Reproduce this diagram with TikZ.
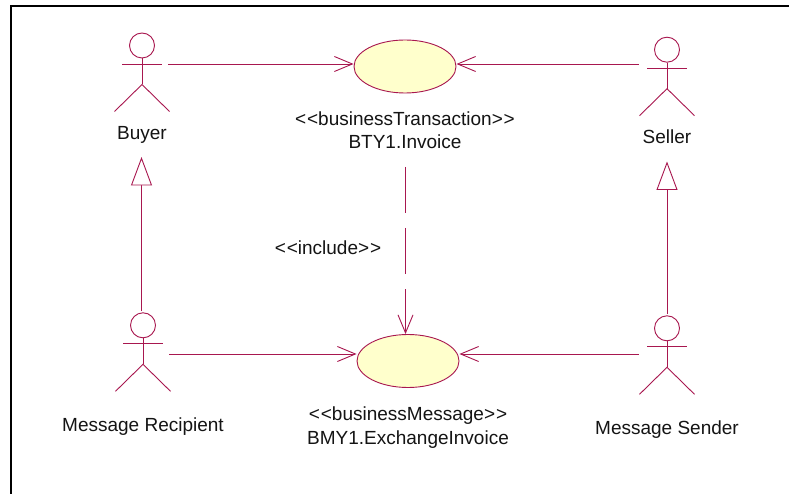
\documentclass[tikz,border=0pt]{standalone}
\usepackage{fontspec}
\setmainfont{Liberation Sans}
\usetikzlibrary{arrows.meta,shapes.geometric}
\definecolor{umlline}{HTML}{A8174F}
\definecolor{umlfill}{HTML}{FFFFCC}
\newcommand{\ltlt}{<\kern0.9pt<}
\newcommand{\gtgt}{>\kern0.9pt>}
\tikzset{
  umlstroke/.style={draw=umlline,line width=0.9pt},
  actorfig/.pic={
    \node[circle,umlstroke,minimum size=25pt,inner sep=0pt] (-head) at (0,0) {};
    \draw[umlstroke] (-head.south) -- (0,39) coordinate (-hip);
    \draw[umlstroke] (-20,18.5) -- (20,18.5);
    \draw[umlstroke] (-27.5,66) -- (-hip) -- (27.5,66);
  },
  usecase/.style={ellipse,umlstroke,fill=umlfill,minimum width=102pt,minimum height=53pt,inner sep=0pt},
  label/.style={inner sep=0pt,anchor=base,align=center,font=\fontsize{19}{23.5}\selectfont,text=black!92},
  assoc/.style={umlstroke,-{Straight Barb[length=18pt,width=15pt,line width=0.9pt]}},
  generalize/.style={umlstroke,-{Triangle[open,fill=white,length=28.5pt,width=21pt,line width=0.9pt]}},
  includes/.style={umlstroke,dash pattern=on 46pt off 15pt,-{Straight Barb[length=18pt,width=15pt,line width=0.9pt]}},
}
\begin{document}
\begin{tikzpicture}[x=1pt,y=-1pt]
\useasboundingbox (0,0) rectangle (789,494);
\fill[white] (0,0) rectangle (789,494);
\draw[black,line width=2pt] (11,494) -- (11,6.5) -- (789,6.5);

\pic (buyer) at (142,45.5) {actorfig};
\pic (seller) at (667,49.7) {actorfig};
\pic (recipient) at (143,325.3) {actorfig};
\pic (sender) at (667,328.3) {actorfig};

\node[usecase] (invoice) at (405,66.5) {};
\node[usecase] (exchange) at (408,361) {};

\node[label] (buyerlabel) at (142,139.3) {Buyer};
\node[label] (sellerlabel) at (667,143.3) {Seller};
\node[label] (recipientlabel) at (143,431) {Message Recipient};
\node[label] (senderlabel) at (667,434) {Message Sender};
\node[label] (invoicelabel) at (405,149) {\ltlt businessTransaction\gtgt\\BTY1.Invoice};
\node[label] (exchangelabel) at (408,444) {\ltlt businessMessage\gtgt\\BMY1.ExchangeInvoice};
\node[label] (includelabel) at (328,254.5) {\ltlt include\gtgt};

\coordinate (buyerport) at (168,64);
\coordinate (sellerport) at (638.7,64);
\coordinate (recipientport) at (169,354);
\coordinate (senderport) at (638.7,354);
\coordinate (includestart) at (405.5,167);
\coordinate (recipienttop) at (141.5,311);
\coordinate (buyerbelow) at (141.5,157);
\coordinate (sendertop) at (667,314);
\coordinate (sellerbelow) at (667,161.5);

\draw[assoc] (buyerport) -- (buyerport -| invoice.west);
\draw[assoc] (sellerport) -- (sellerport -| invoice.east);
\draw[assoc] (recipientport) -- (recipientport -| exchange.west);
\draw[assoc] (senderport) -- (senderport -| exchange.east);
\draw[includes] (includestart) -- (includestart |- exchange.north);
\draw[generalize] (recipienttop) -- (buyerbelow);
\draw[generalize] (sendertop) -- (sellerbelow);
\end{tikzpicture}
\end{document}
